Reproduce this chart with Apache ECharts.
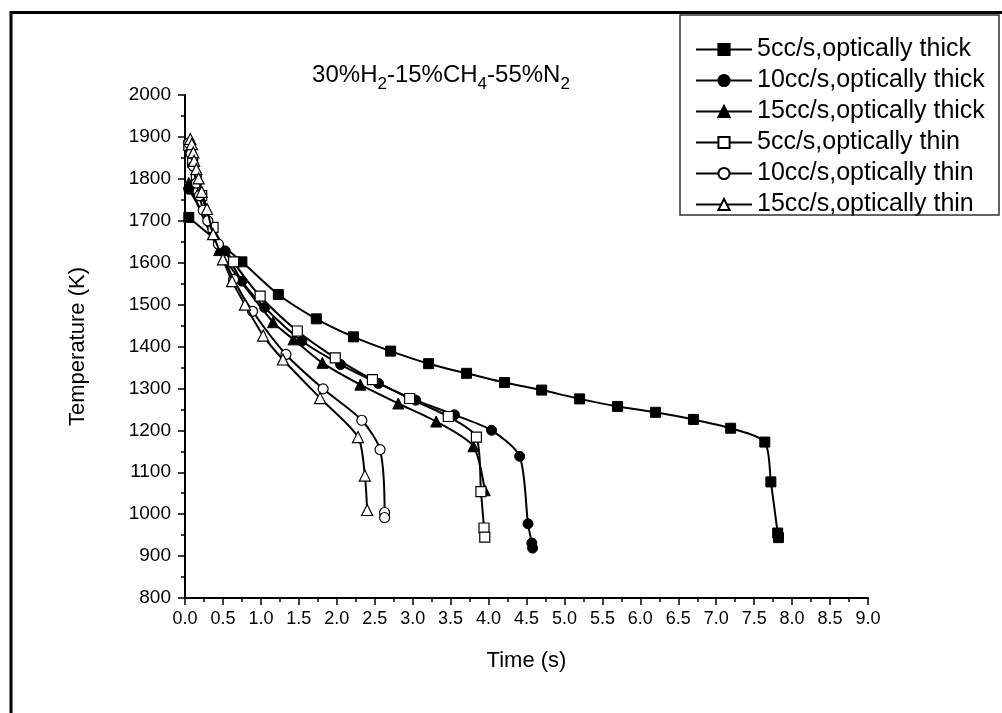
<!DOCTYPE html>
<html><head><meta charset="utf-8">
<script src="https://cdn.jsdelivr.net/npm/echarts@6/dist/echarts.min.js"></script>
<style>html,body{margin:0;padding:0;background:#fff}#c{width:1002px;height:713px}</style>
</head><body><div id="c"></div>
<script>
const seriesNames = ['5cc/s,optically thick','10cc/s,optically thick','15cc/s,optically thick','5cc/s,optically thin','10cc/s,optically thin','15cc/s,optically thin'];
const thick5 = [[0.05,1708],[0.75,1602],[1.23,1524],[1.73,1466],[2.22,1423],[2.71,1389],[3.21,1359],[3.71,1336],[4.21,1314],[4.70,1296],[5.20,1275],[5.70,1257],[6.20,1243],[6.70,1226],[7.19,1205],[7.64,1172],[7.72,1077],[7.81,955],[7.82,944]];
const thick10 = [[0.05,1775],[0.53,1628],[0.75,1556],[1.05,1493],[1.54,1413],[2.05,1357],[2.55,1312],[3.04,1272],[3.55,1237],[4.04,1200],[4.41,1138],[4.52,977],[4.57,931],[4.58,919]];
const thick15 = [[0.05,1790],[0.45,1630],[1.16,1458],[1.43,1417],[1.81,1361],[2.31,1309],[2.81,1264],[3.31,1221],[3.80,1162],[3.95,1057]];
const thin5 = [[0.05,1880],[0.10,1840],[0.15,1800],[0.22,1760],[0.37,1684],[0.64,1602],[0.99,1520],[1.48,1437],[1.98,1373],[2.47,1321],[2.96,1276],[3.47,1233],[3.84,1184],[3.90,1054],[3.94,967],[3.95,945]];
const thin10 = [[0.05,1885],[0.08,1860],[0.11,1830],[0.15,1790],[0.19,1760],[0.24,1725],[0.30,1700],[0.44,1644],[0.64,1560],[0.89,1484],[1.33,1381],[1.82,1299],[2.33,1224],[2.57,1154],[2.63,1004],[2.63,992]];
const thin15 = [[0.07,1895],[0.09,1883],[0.11,1863],[0.12,1843],[0.15,1823],[0.18,1801],[0.22,1769],[0.29,1728],[0.37,1668],[0.50,1608],[0.62,1556],[0.79,1500],[1.03,1426],[1.29,1369],[1.78,1277],[2.28,1184],[2.37,1092],[2.40,1010]];
const allData = [thick5, thick10, thick15, thin5, thin10, thin15];
const symbols = ['rect','circle','triangle','rect','circle','triangle'];
const filled = [true,true,true,false,false,false];
const symSizes = [10,10,11,10,10,11];

const FONT = '"Liberation Sans", Arial, sans-serif';
const chart = echarts.init(document.getElementById('c'), null, {renderer:'canvas'});
const series = allData.map((d,i)=>({
  name: seriesNames[i], type:'line', data:d, smooth:0.25,
  symbol: symbols[i], symbolSize: symSizes[i], showSymbol:true,
  lineStyle:{color:'#000', width:2},
  itemStyle: filled[i] ? {color:'#000', borderColor:'#000', borderWidth:1} : {color:'#fff', borderColor:'#000', borderWidth:1.2},
  emphasis:{disabled:true}, z: 2+i
}));
chart.setOption({
  animation:false,
  backgroundColor:'#fff',
  grid:{left:185, right:134, top:95, bottom:115, containLabel:false},
  title:{
    text:'{n|30%H}{s|2}{n|-15%CH}{s|4}{n|-55%N}{s|2}',
    left:436, top:58, textAlign:'center',
    textStyle:{rich:{
      n:{fontFamily:FONT, fontSize:24, fontWeight:'normal', color:'#000', verticalAlign:'top', lineHeight:32},
      s:{fontFamily:FONT, fontSize:17, fontWeight:'normal', color:'#000', verticalAlign:'top', padding:[13,0,0,0], lineHeight:32}
    }}
  },
  legend:{
    data: seriesNames, orient:'vertical', left:690, top:32, itemWidth:56, itemHeight:14, itemGap:6,
    textStyle:{fontFamily:FONT, fontSize:25, color:'#000'}, selectedMode:false
  },
  xAxis:{
    type:'value', min:0, max:9, interval:0.5,
    name:'Time (s)', nameLocation:'middle', nameGap:52,
    nameTextStyle:{fontFamily:FONT, fontSize:22, color:'#000'},
    axisLine:{show:true, onZero:false, lineStyle:{color:'#000', width:2}},
    axisTick:{show:true, length:7, lineStyle:{color:'#000', width:1.5}},
    minorTick:{show:true, splitNumber:2, length:4, lineStyle:{color:'#000', width:1.5}},
    axisLabel:{fontFamily:FONT, fontSize:18, color:'#000', margin:12, interval:0, formatter:v=>v.toFixed(1)},
    splitLine:{show:false}
  },
  yAxis:{
    type:'value', min:800, max:2000, interval:100,
    name:'Temperature (K)', nameLocation:'middle', nameGap:96, nameRotate:90,
    nameTextStyle:{fontFamily:FONT, fontSize:22, color:'#000'},
    axisLine:{show:true, onZero:false, lineStyle:{color:'#000', width:2}},
    axisTick:{show:true, length:7, lineStyle:{color:'#000', width:1.5}},
    minorTick:{show:true, splitNumber:2, length:4, lineStyle:{color:'#000', width:1.5}},
    axisLabel:{fontFamily:FONT, fontSize:19, color:'#000', margin:14, formatter:v=>String(v)},
    splitLine:{show:false}
  },
  graphic:[
    {type:'polyline', shape:{points:[[11,713],[11,12.5],[1002,12.5]]}, style:{stroke:'#000', lineWidth:3, fill:null}, z:100},
    {type:'rect', shape:{x:680, y:15, width:319, height:200}, style:{stroke:'#333', lineWidth:1.5, fill:null}, z:100}
  ],
  series: series
});
</script></body></html>
